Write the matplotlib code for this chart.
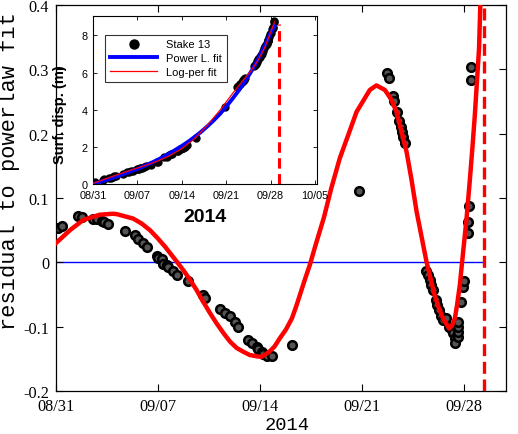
import matplotlib
matplotlib.use("Agg")
import matplotlib.pyplot as plt
import numpy as np

plt.rcParams['axes.unicode_minus'] = False

# ---------------- data (days since 2014-08-31) ----------------
obs_days = [0.14, 0.39, 1.53, 1.76, 2.56, 2.79, 3.13, 3.32, 3.59, 4.74, 5.42, 5.65, 5.95, 6.27,
            6.95, 7.02, 7.25, 7.37, 7.6, 7.71, 8.05, 8.33, 9.08, 10.07, 10.23, 11.26, 11.6, 11.94,
            12.29, 12.51, 13.2, 13.43, 13.77, 13.9, 14.12, 14.23, 14.46, 14.8, 16.22, 20.8,
            22.7, 22.86, 23.11, 23.2, 23.43, 23.57, 23.66, 23.73, 23.84, 23.95,
            25.44, 25.55, 25.67, 25.78, 25.9, 26.08, 26.17, 26.3, 26.47, 26.58, 26.77,
            27.0, 27.16, 27.27, 27.39, 27.39, 27.57, 27.57, 27.6, 27.6, 27.78, 27.96, 28.0,
            28.26, 28.3, 28.37, 28.53, 28.53]
obs_resid = [0.053, 0.057, 0.072, 0.070, 0.067, 0.067, 0.065, 0.063, 0.060, 0.048, 0.042, 0.036, 0.030, 0.024,
             0.010, 0.007, 0.005, -0.002, -0.004, -0.008, -0.014, -0.019, -0.029, -0.051, -0.056, -0.072, -0.079, -0.084,
             -0.092, -0.101, -0.121, -0.126, -0.132, -0.134, -0.139, -0.142, -0.145, -0.145, -0.129, 0.111,
             0.294, 0.286, 0.258, 0.251, 0.234, 0.219, 0.211, 0.203, 0.195, 0.185,
             -0.014, -0.020, -0.027, -0.035, -0.043, -0.059, -0.066, -0.074, -0.084, -0.090, -0.087,
             -0.100, -0.105, -0.110, -0.118, -0.126, -0.116, -0.108, -0.100, -0.092, -0.061, -0.038, -0.029,
             0.045, 0.063, 0.087, 0.284, 0.304]
obs_disp = [0.07, 0.10, 0.23, 0.25, 0.33, 0.35, 0.39, 0.41, 0.44, 0.56, 0.63, 0.65, 0.68, 0.72,
            0.79, 0.80, 0.83, 0.84, 0.87, 0.88, 0.93, 0.96, 1.05, 1.18, 1.20, 1.43, 1.48, 1.55,
            1.61, 1.64, 1.76, 1.80, 1.87, 1.89, 1.94, 1.96, 2.01, 2.09, 2.46, 4.15,
            5.20, 5.27, 5.36, 5.40, 5.50, 5.55, 5.59, 5.62, 5.67, 5.71,
            6.36, 6.42, 6.49, 6.55, 6.62, 6.71, 6.77, 6.85, 6.96, 7.02, 7.15,
            7.30, 7.42, 7.49, 7.57, 7.56, 7.71, 7.72, 7.75, 7.76, 7.93, 8.08, 8.12,
            8.35, 8.38, 8.45, 8.74, 8.76]

# log-periodic fit of the residual
fit_days = [0, 0.96, 1.88, 3.0, 3.9, 4.16, 5.3, 5.9, 6.45, 7.0, 7.5, 7.95, 8.4, 8.8, 9.2, 9.65,
            10.1, 10.55, 11.03, 11.5, 11.94, 12.4, 12.86, 13.3, 13.77, 14.1, 14.6, 15.0, 15.37,
            15.8, 16.2, 16.5, 16.8, 17.1, 17.43, 17.8, 18.4, 18.9, 19.49, 20.1, 20.64, 21.55,
            22.0, 22.58, 23.0, 23.38, 24.07, 24.4, 24.76, 25.1, 25.44, 26.0, 26.3, 26.58, 27.0,
            27.2, 27.39, 27.55, 27.73, 27.96, 28.19, 28.41, 28.6, 28.76, 29.05, 29.15]
fit_resid = [0.030, 0.050, 0.066, 0.074, 0.0755, 0.075, 0.068, 0.060, 0.050, 0.037, 0.024, 0.011,
             -0.002, -0.014, -0.027, -0.043, -0.061, -0.078, -0.095, -0.110, -0.123, -0.133,
             -0.139, -0.144, -0.146, -0.147, -0.140, -0.131, -0.118, -0.104, -0.087, -0.068,
             -0.047, -0.026, -0.004, 0.025, 0.070, 0.115, 0.162, 0.200, 0.234, 0.268, 0.275,
             0.268, 0.254, 0.234, 0.172, 0.130, 0.079, 0.040, 0.001, -0.051, -0.072, -0.087,
             -0.103, -0.098, -0.087, -0.065, -0.035, 0.017, 0.068, 0.126, 0.180, 0.229, 0.333, 0.41]

# inset curves (surface displacement, m)
pl_days = [0, 1, 2, 3, 4, 5, 6, 7, 8, 9, 10, 11, 12, 13, 14, 15, 16, 17, 18, 19, 20, 21, 22,
           23, 24, 25, 26, 27, 28, 28.6]
pl_disp = [0, 0.10, 0.21, 0.32, 0.44, 0.56, 0.69, 0.81, 0.96, 1.11, 1.27, 1.45, 1.64, 1.84, 2.05,
           2.28, 2.53, 2.80, 3.10, 3.42, 3.77, 4.17, 4.60, 5.05, 5.55, 6.10, 6.72, 7.40, 8.15, 8.50]
lp_days = [0, 2, 4, 6, 8, 10, 12, 14, 16, 18, 20, 22, 24, 25, 26, 27, 28, 28.6]
lp_disp = [0.03, 0.28, 0.52, 0.75, 0.97, 1.21, 1.51, 1.90, 2.44, 3.16, 3.97, 4.88, 5.73, 6.14,
           6.67, 7.30, 8.17, 8.73]

t_crit = 29.37
main_xticks = [0, 7, 14, 21, 28]
main_xlabels = ['08/31', '09/07', '09/14', '09/21', '09/28']
main_yticks = [-0.2, -0.1, 0, 0.1, 0.2, 0.3, 0.4]
main_ylabels = ['-0.2', '-0.1', '0', '0.1', '0.2', '0.3', '0.4']
inset_xticks = [0, 7, 14, 21, 28, 35]
inset_xlabels = ['08/31', '09/07', '09/14', '09/21', '09/28', '10/05']
inset_yticks = [0, 2, 4, 6, 8]

# ---------------- figure ----------------
W, H = 518, 435
fig = plt.figure(figsize=(W / 100, H / 100), dpi=100)

serif = 'Liberation Serif'
mono = 'Liberation Mono'
sans = 'Liberation Sans'

ax = fig.add_axes([56 / W, 1 - 392 / H, 450 / W, 386 / H])
ax.plot([0, t_crit], [0, 0], color='#0000ff', lw=1.0, zorder=1)
ax.plot(obs_days, obs_resid, 'o', ms=6.2, mfc='#555555', mec='black', mew=1.8, zorder=2)
ax.plot(fit_days, fit_resid, color='#ff0000', lw=3.2, zorder=3, solid_joinstyle='round')
ax.axvline(t_crit, color='#ff0000', lw=2.4, ls=(0, (3.6, 1.7)), zorder=3)
ax.set_xlim(0, 30.9)
ax.set_ylim(-0.2, 0.4)
ax.set_xticks(main_xticks)
ax.set_xticklabels(main_xlabels, fontfamily=serif, fontsize=11.7)
ax.set_yticks(main_yticks)
ax.set_yticklabels(main_ylabels, fontfamily=serif, fontsize=11.7)
ax.tick_params(direction='in', top=True, right=True, length=5, width=0.8, pad=5)
for s in ax.spines.values():
    s.set_linewidth(0.9)

fig.text(9.5 / W, 1 - 171 / H, 'residual to powerlaw fit', rotation=90, ha='center', va='center',
         fontfamily=mono, fontsize=15.8)
fig.text(287 / W, 1 - 426 / H, '2014', ha='center', va='center', fontfamily=mono, fontsize=13.5)

# ---------------- inset ----------------
ins = fig.add_axes([93 / W, 1 - 185 / H, 224 / W, 168 / H])
ins.plot(obs_days, obs_disp, 'o', ms=5.0, color='black', zorder=2, label='Stake 13')
ins.plot(pl_days, pl_disp, color='#0000ff', lw=2.8, zorder=3, label='Power L. fit')
ins.plot(lp_days, lp_disp, color='#ff0000', lw=0.9, zorder=4, label='Log-per fit')
ins.plot([t_crit, t_crit], [0, 8.6], color='#ff0000', lw=2.2, ls=(0, (3.4, 1.8)), zorder=3)
ins.set_xlim(0, 35.3)
ins.set_ylim(0, 9.05)
ins.set_xticks(inset_xticks)
ins.set_xticklabels(inset_xlabels, fontfamily=sans, fontsize=7.8)
ins.set_yticks(inset_yticks)
ins.set_yticklabels([str(v) for v in inset_yticks], fontfamily=sans, fontsize=7.8)
ins.tick_params(direction='in', top=True, right=True, length=3, width=0.6, pad=4)
for s in ins.spines.values():
    s.set_linewidth(0.8)
ins.set_ylabel('Surf. disp. (m)', fontfamily=sans, fontweight='bold', fontsize=10.5)
ins.yaxis.set_label_coords(-0.115, 0.42)
ins.set_xlabel('2014', fontfamily=sans, fontweight='bold', fontsize=14, labelpad=6)
leg = ins.legend(loc='upper left', bbox_to_anchor=(0.03, 0.92), prop={'family': sans, 'size': 8},
                 handlelength=4.3, frameon=True, fancybox=False, edgecolor='black',
                 borderpad=0.4, labelspacing=0.35, markerscale=1.3)
leg.get_frame().set_linewidth(0.8)

fig.savefig('out.png', dpi=100)
